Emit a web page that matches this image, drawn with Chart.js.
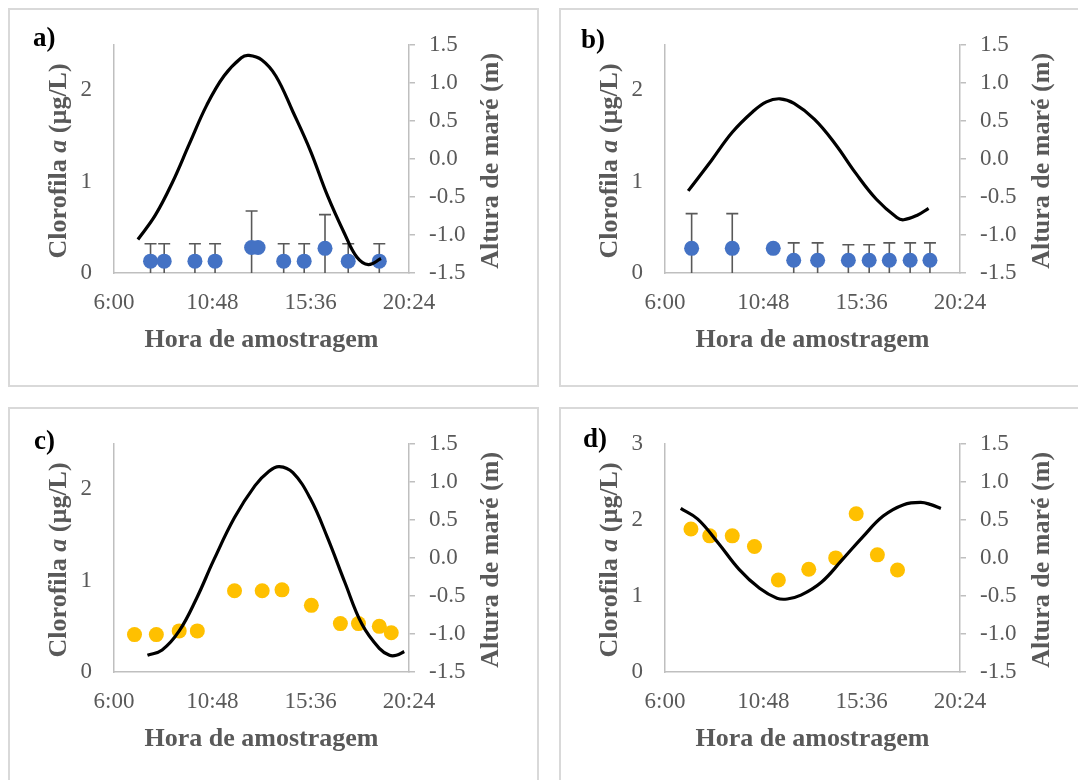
<!DOCTYPE html>
<html>
<head>
<meta charset="utf-8">
<script src="https://cdn.jsdelivr.net/npm/chart.js@4.4.1/dist/chart.umd.min.js"></script>
<style>
  body { margin: 0; background: #fff; width: 1078px; height: 780px; overflow: hidden; position: relative; }
  .painel { position: absolute; width: 529px; height: 377px; }
  .painel canvas { position: absolute; left: 0; top: 0; }
  .moldura { position: absolute; left: -1px; top: -1px; width: 531px; height: 379px;
             box-sizing: border-box; border: 2px solid #d9d9d9; pointer-events: none; }
</style>
</head>
<body>
<div class="painel" style="left:9px;top:9px"><canvas id="graficoA" width="529" height="377"></canvas><div class="moldura"></div></div>
<div class="painel" style="left:560px;top:9px"><canvas id="graficoB" width="529" height="377"></canvas><div class="moldura"></div></div>
<div class="painel" style="left:9px;top:408px"><canvas id="graficoC" width="529" height="377"></canvas><div class="moldura"></div></div>
<div class="painel" style="left:560px;top:408px"><canvas id="graficoD" width="529" height="377"></canvas><div class="moldura"></div></div>
<script>
// eixos
var horasEixo = ['6:00', '10:48', '15:36', '20:24'];
var clorTicks = [0, 1, 2];
var clorTicksD = [0, 1, 2, 3];
var mareTicks = [-1.5, -1.0, -0.5, 0.0, 0.5, 1.0, 1.5];

// a)
var chlHorasA = ['7:47', '8:27', '9:57', '10:56', '12:43', '13:02', '14:17', '15:17', '16:18', '17:26', '18:57'];
var chlA = [0.13, 0.13, 0.13, 0.13, 0.28, 0.28, 0.13, 0.13, 0.27, 0.13, 0.13];
var dpA = [0.19, 0.19, 0.19, 0.19, 0.40, 0, 0.19, 0.19, 0.37, 0.19, 0.19];
var mareHorasA = ['7:10', '8:01', '8:51', '9:41', '10:32', '11:22', '12:13', '12:35', '13:13', '13:54', '14:44', '15:35', '16:25', '17:16', '17:51', '18:25', '19:02'];
var mareA = [-1.06, -0.74, -0.31, 0.20, 0.71, 1.09, 1.33, 1.36, 1.30, 1.09, 0.62, 0.11, -0.48, -0.99, -1.29, -1.39, -1.31];

// b)
var chlHorasB = ['7:18', '9:17', '11:17', '12:17', '13:27', '14:57', '15:58', '16:57', '17:58', '18:56'];
var chlB = [0.27, 0.27, 0.27, 0.14, 0.14, 0.14, 0.14, 0.14, 0.14, 0.14];
var dpB = [0.38, 0.38, 0, 0.19, 0.19, 0.17, 0.17, 0.19, 0.19, 0.19];
var mareHorasB = ['7:08', '8:16', '9:17', '10:17', '10:57', '11:37', '12:18', '13:18', '14:18', '15:19', '16:19', '17:19', '17:39', '18:19', '18:52'];
var mareB = [-0.42, -0.02, 0.35, 0.62, 0.75, 0.79, 0.73, 0.52, 0.20, -0.19, -0.53, -0.77, -0.80, -0.74, -0.65];

// c)
var chlHorasC = ['7:00', '8:04', '9:11', '10:04', '11:53', '13:14', '14:12', '15:38', '17:03', '17:56', '18:57', '19:32'];
var chlC = [0.41, 0.41, 0.45, 0.45, 0.89, 0.89, 0.90, 0.73, 0.53, 0.53, 0.50, 0.43];
var mareHorasC = ['7:38', '8:21', '9:11', '10:02', '10:52', '11:53', '12:53', '13:34', '14:04', '14:44', '15:35', '16:25', '17:16', '18:06', '18:57', '19:27', '19:47', '20:10'];
var mareC = [-1.28, -1.21, -0.96, -0.53, -0.03, 0.53, 0.95, 1.14, 1.20, 1.12, 0.78, 0.27, -0.32, -0.87, -1.19, -1.28, -1.28, -1.23];

// d)
var chlHorasD = ['7:16', '8:11', '9:17', '10:22', '11:32', '13:01', '14:20', '15:20', '16:22', '17:21'];
var chlD = [1.88, 1.79, 1.79, 1.65, 1.21, 1.35, 1.50, 2.08, 1.54, 1.34];
var mareHorasD = ['6:46', '7:36', '8:37', '9:37', '10:37', '11:28', '11:58', '12:38', '13:38', '14:38', '15:38', '16:39', '17:39', '18:29', '18:59', '19:28'];
var mareD = [0.65, 0.51, 0.19, -0.15, -0.40, -0.53, -0.54, -0.49, -0.32, -0.03, 0.27, 0.55, 0.70, 0.73, 0.70, 0.65];

var CINZA = '#595959';
var EIXO = '#bfbfbf';
var FONTE = '"Liberation Serif", "Times New Roman", serif';

function paraMin(h) {
    var p = h.split(':');
    return Number(p[0]) * 60 + Number(p[1]);
}

function formatarHora(v) {
    var h = Math.floor(v / 60), m = Math.round(v - h * 60);
    return h + ':' + (m < 10 ? '0' : '') + m;
}

function pontos(horas, valores) {
    return horas.map(function(h, i) { return { x: paraMin(h), y: valores[i] }; });
}

// texto com trechos em fontes diferentes (ex.: "a" em itálico)
function textoMisto(ctx, partes, cx, cy, ang) {
    var total = 0;
    partes.forEach(function(p) { ctx.font = p[0]; total += ctx.measureText(p[1]).width; });
    ctx.save();
    ctx.translate(cx, cy);
    ctx.rotate(ang);
    ctx.textAlign = 'left';
    ctx.textBaseline = 'alphabetic';
    var x = -total / 2;
    partes.forEach(function(p) {
        ctx.font = p[0];
        ctx.fillText(p[1], x, 0);
        x += ctx.measureText(p[1]).width;
    });
    ctx.restore();
}

var barrasErro = {
    id: 'barrasErro',
    beforeDatasetsDraw: function(chart, args, opts) {
        if (!opts.dp) return;
        var ctx = chart.ctx, a = chart.chartArea;
        var xs = chart.scales.x, ys = chart.scales.y;
        var dados = chart.data.datasets[1].data;
        ctx.save();
        ctx.beginPath();
        ctx.rect(a.left, a.top, a.right - a.left, a.bottom - a.top);
        ctx.clip();
        ctx.strokeStyle = CINZA;
        ctx.lineWidth = 1.6;
        dados.forEach(function(p, i) {
            var e = opts.dp[i];
            if (!e) return;
            var px = xs.getPixelForValue(p.x);
            var topo = ys.getPixelForValue(p.y + e);
            var base = ys.getPixelForValue(p.y - e);
            ctx.beginPath();
            ctx.moveTo(px, base);
            ctx.lineTo(px, topo);
            ctx.moveTo(px - 6, topo);
            ctx.lineTo(px + 6, topo);
            ctx.moveTo(px - 6, base);
            ctx.lineTo(px + 6, base);
            ctx.stroke();
        });
        ctx.restore();
    }
};

var rotulos = {
    id: 'rotulos',
    afterDraw: function(chart, args, opts) {
        var ctx = chart.ctx, a = chart.chartArea;
        var meioY = (a.top + a.bottom) / 2 + 2;
        ctx.save();
        ctx.fillStyle = CINZA;
        ctx.font = 'bold 26px ' + FONTE;
        ctx.textAlign = 'center';
        ctx.textBaseline = 'alphabetic';
        ctx.fillText('Hora de amostragem', (a.left + a.right) / 2, a.bottom + 74);
        textoMisto(ctx, [
            ['bold 26px ' + FONTE, 'Clorofila '],
            ['bold italic 26px ' + FONTE, 'a'],
            ['bold 26px ' + FONTE, ' (\u00b5g/L)']
        ], a.left - 48, meioY, -Math.PI / 2);
        textoMisto(ctx, [['bold 26px ' + FONTE, 'Altura de mar\u00e9 (m)']], a.right + 89, meioY, -Math.PI / 2);
        ctx.fillStyle = '#000';
        ctx.font = 'bold 27px ' + FONTE;
        ctx.textAlign = 'left';
        ctx.fillText(opts.letra, opts.lx, opts.ly);
        ctx.restore();
    }
};

function criarGrafico(id, cfg) {
    var fonteTick = { family: FONTE, size: 23 };
    return new Chart(document.getElementById(id), {
        type: 'scatter',
        data: {
            datasets: [{
                label: 'Altura de maré',
                data: pontos(cfg.mareHoras, cfg.mare),
                yAxisID: 'y2',
                showLine: true,
                borderColor: '#000',
                borderWidth: 3.2,
                pointRadius: 0,
                tension: 0.4,
                order: 0
            }, {
                label: 'Clorofila a',
                data: pontos(cfg.chlHoras, cfg.chl),
                yAxisID: 'y',
                pointRadius: 7.5,
                pointBackgroundColor: cfg.cor,
                pointBorderWidth: 0,
                borderColor: cfg.cor,
                order: 1
            }]
        },
        options: {
            responsive: false,
            animation: false,
            events: [],
            layout: { padding: { top: 29, left: 0, right: 0, bottom: 0 } },
            plugins: {
                legend: { display: false },
                tooltip: { enabled: false },
                barrasErro: { dp: cfg.dp },
                rotulos: { letra: cfg.letra, lx: cfg.lx, ly: cfg.ly }
            },
            scales: {
                x: {
                    type: 'linear',
                    min: paraMin(horasEixo[0]),
                    max: paraMin(horasEixo[horasEixo.length - 1]),
                    afterBuildTicks: function(s) {
                        s.ticks = horasEixo.map(function(h) { return { value: paraMin(h) }; });
                    },
                    afterFit: function(s) { s.height = 113; },
                    ticks: { callback: formatarHora, font: fonteTick, color: CINZA, padding: 16, maxRotation: 0, autoSkip: false },
                    grid: { display: false, drawTicks: false },
                    border: { display: true, color: EIXO, width: 1.5 }
                },
                y: {
                    position: 'left',
                    min: 0,
                    max: cfg.clorMax,
                    afterBuildTicks: function(s) {
                        s.ticks = cfg.clorTicks.map(function(v) { return { value: v }; });
                    },
                    afterFit: function(s) { s.width = 105; },
                    ticks: { callback: function(v) { return String(v); }, font: fonteTick, color: CINZA, padding: 22, autoSkip: false },
                    grid: { display: false, drawTicks: false },
                    border: { display: true, color: EIXO, width: 1.5 }
                },
                y2: {
                    position: 'right',
                    min: -1.5,
                    max: 1.5,
                    afterBuildTicks: function(s) {
                        s.ticks = mareTicks.map(function(v) { return { value: v }; });
                    },
                    afterFit: function(s) { s.width = 129; },
                    ticks: { callback: function(v) { return v.toFixed(1); }, font: fonteTick, color: CINZA, padding: 14, autoSkip: false },
                    grid: { display: true, drawOnChartArea: false, drawTicks: true, tickLength: 6, color: EIXO, lineWidth: 1.5 },
                    border: { display: true, color: EIXO, width: 1.5 }
                }
            }
        },
        plugins: [barrasErro, rotulos]
    });
}

criarGrafico('graficoA', { letra: 'a)', lx: 24, ly: 37, cor: '#4472C4', clorMax: 2.5, clorTicks: clorTicks,
    chlHoras: chlHorasA, chl: chlA, dp: dpA, mareHoras: mareHorasA, mare: mareA });
criarGrafico('graficoB', { letra: 'b)', lx: 21, ly: 39, cor: '#4472C4', clorMax: 2.5, clorTicks: clorTicks,
    chlHoras: chlHorasB, chl: chlB, dp: dpB, mareHoras: mareHorasB, mare: mareB });
criarGrafico('graficoC', { letra: 'c)', lx: 25, ly: 41, cor: '#FFC000', clorMax: 2.5, clorTicks: clorTicks,
    chlHoras: chlHorasC, chl: chlC, dp: null, mareHoras: mareHorasC, mare: mareC });
criarGrafico('graficoD', { letra: 'd)', lx: 23, ly: 39, cor: '#FFC000', clorMax: 3, clorTicks: clorTicksD,
    chlHoras: chlHorasD, chl: chlD, dp: null, mareHoras: mareHorasD, mare: mareD });
</script>
</body>
</html>
